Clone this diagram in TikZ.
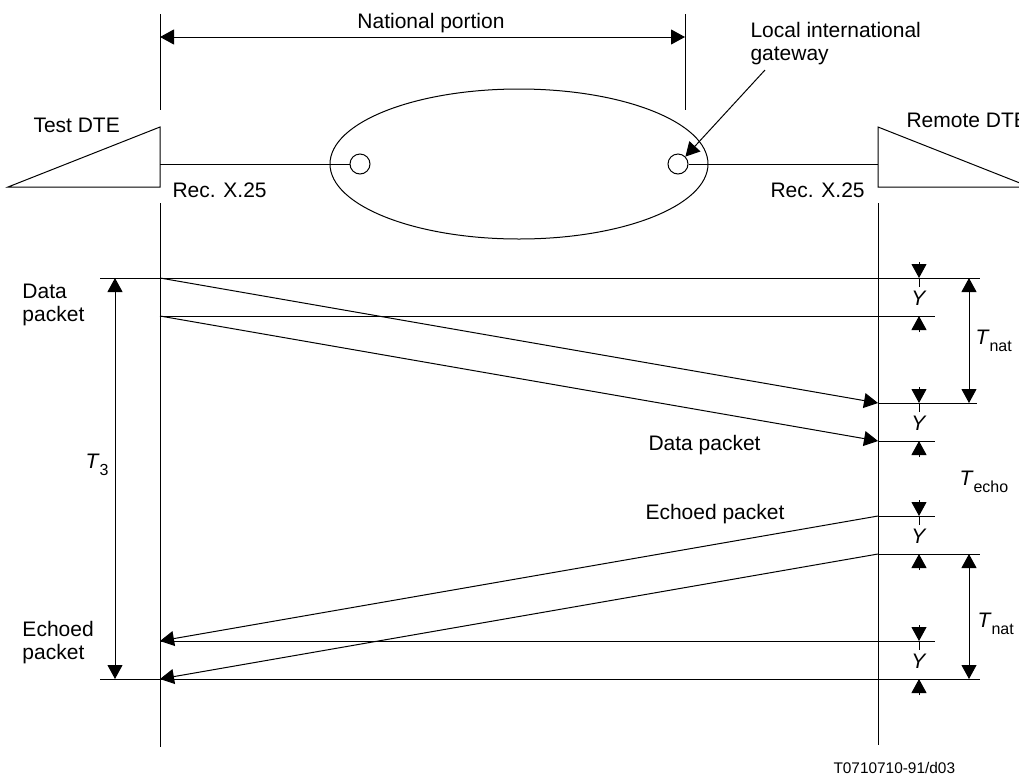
\documentclass[tikz,border=0pt]{standalone}
\usepackage{fontspec}
\setmainfont{Liberation Sans}
\usetikzlibrary{arrows.meta,shapes.geometric,positioning}
\newcommand{\Tsub}[1]{\textit{T}\raisebox{-3.5pt}{\fontsize{8}{9}\selectfont #1}}

\begin{document}
\begin{tikzpicture}[x=0.5pt,y=-0.5pt,line width=0.5pt,
  lbl/.style={font=\fontsize{10.5}{11.5}\selectfont,inner sep=0pt},
  >={Triangle[width=7.5pt,length=7pt]}]
\useasboundingbox (0,0) rectangle (1019,783);
% lifelines
\coordinate (lt) at (160,14);
\coordinate (lm) at (160,110);
\coordinate (lu) at (160,203);
\coordinate (lb) at (160,747);
\coordinate (rt) at (685,14);
\coordinate (rm) at (685,110);
\coordinate (ru) at (878,203);
\coordinate (rb) at (878,745);
\draw (lt) -- (lm);
\draw (lu) -- (lb);
\draw (rt) -- (rm);
\draw (ru) -- (rb);
% national portion
\coordinate (np1) at (160,37);
\coordinate (np2) at (685,37);
\path[<->] (np1) edge (np2);
\node (natl) [lbl,anchor=base] at (431,28) {National portion};
% DTEs and network
\draw (8,187) -- (160,127) -- (160,187) -- cycle;
\draw (1030,187) -- (878,127) -- (878,187) -- cycle;
\node (tdte) [lbl,anchor=base west] at (33,132) {Test DTE};
\node (rdte) [lbl,anchor=base west] at (906,127) {Remote DTE};
\node (net) [draw,ellipse,minimum width=189pt,minimum height=75pt,inner sep=0pt] at (519,164) {};
\node (gwl) [draw,circle,minimum size=10pt,inner sep=0pt] at (360,164) {};
\node (gwr) [draw,circle,minimum size=10pt,inner sep=0pt] at (678,164) {};
\coordinate (tx) at (160,164);
\coordinate (rx) at (878,164);
\draw (tx) -- (gwl);
\draw (gwr) -- (rx);
\node (recl) [lbl,anchor=base west] at (172,197) {Rec. X.25};
\node (recr) [lbl,anchor=base west] at (770,197) {Rec. X.25};
\node (gwlab) [lbl,anchor=north west,align=left] at (750,22) {Local international\\gateway};
\coordinate (gwtail) at (765,70);
\path[->] (gwtail) edge (gwr.north east);
% packet lines
\coordinate (s1) at (160,278);
\coordinate (s2) at (160,316);
\coordinate (r1) at (878,403);
\coordinate (r2) at (878,441);
\coordinate (r3) at (878,516);
\coordinate (r4) at (878,554);
\coordinate (s3) at (160,641);
\coordinate (s4) at (160,679);
\draw (100,278) -- (980,278);
\draw (s2) -- (935,316);
\draw (r1) -- (977,403);
\draw (r2) -- (935,441);
\draw (r3) -- (935,516);
\draw (r4) -- (980,554);
\draw (s3) -- (935,641);
\draw (100,679) -- (980,679);
\path[->]
(s1) edge (r1)
(s2) edge (r2)
(r3) edge (s3)
(r4) edge (s4);
\node (dpl) [lbl,anchor=north west,align=left] at (22,284) {Data\\packet};
\node (epl) [lbl,anchor=north west,align=left] at (22,621) {Echoed\\packet};
\node (dpm) [lbl,anchor=base west] at (648,450) {Data packet};
\node (epm) [lbl,anchor=base west] at (645,519) {Echoed packet};
% Y gaps
\draw[->] (919,262) -- (919,278);
\draw (919,278) -- (919,287);
\node (y1) [lbl,anchor=base] at (919,305) {\textit{Y}};
\draw[->] (919,332) -- (919,316);
\draw[->] (919,387) -- (919,403);
\draw (919,403) -- (919,412);
\node (y2) [lbl,anchor=base] at (919,430) {\textit{Y}};
\draw[->] (919,457) -- (919,441);
\draw[->] (919,500) -- (919,516);
\draw (919,516) -- (919,525);
\node (y3) [lbl,anchor=base] at (919,543) {\textit{Y}};
\draw[->] (919,570) -- (919,554);
\draw[->] (919,625) -- (919,641);
\draw (919,641) -- (919,650);
\node (y4) [lbl,anchor=base] at (919,668) {\textit{Y}};
\draw[->] (919,695) -- (919,679);
% time spans
\coordinate (t3a) at (115,278);
\coordinate (t3b) at (115,679);
\coordinate (tn1a) at (969,278);
\coordinate (tn1b) at (969,403);
\coordinate (tn2a) at (969,554);
\coordinate (tn2b) at (969,679);
\path[<->]
(t3a) edge (t3b)
(tn1a) edge (tn1b)
(tn2a) edge (tn2b);
\node (t3) [lbl,anchor=base west] at (85,468) {\Tsub{3}};
\node (tn1) [lbl,anchor=base west] at (975,344) {\Tsub{nat}};
\node (tech) [lbl,anchor=base west] at (959,485) {\Tsub{echo}};
\node (tn2) [lbl,anchor=base west] at (977,627) {\Tsub{nat}};
\node (fig) [font=\fontsize{7.7}{9}\selectfont,inner sep=0pt,anchor=base west] at (833,773) {T0710710-91/d03};
\end{tikzpicture}
\end{document}
